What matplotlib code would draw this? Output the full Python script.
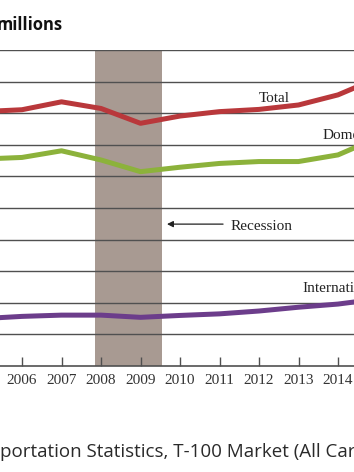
import matplotlib
matplotlib.use("Agg")
import matplotlib.pyplot as plt

# ---- data ----
years = [2005, 2006, 2007, 2008, 2009, 2010, 2011, 2012, 2013, 2014, 2015]
total = [805, 811, 836, 815, 768, 791, 805, 812, 826, 858, 911]
domestic = [655, 660, 681, 652, 615, 629, 641, 647, 647, 668, 722]
international = [150, 157, 161, 161, 154, 160, 165, 174, 186, 196, 212]
recession = (2007.85, 2009.55)
tick_years = list(range(2005, 2016))
title_text = "millions"
source_prefix = "Source: Bureau of Trans"
source_text = "Source: Bureau of Transportation Statistics, T-100 Market (All Carriers)"

W, H = 354, 472
fig = plt.figure(figsize=(W / 100, H / 100), dpi=100)

px_per_year = 39.5
x0 = 2006 - 22 / px_per_year
x1 = 2014 + (W - 338) / px_per_year
ax = fig.add_axes([0, 1 - 366 / H, 1, (366 - 50) / H])

serif = ["Liberation Serif", "DejaVu Serif"]

# recession shading
ax.axvspan(recession[0], recession[1], color="#a89a92", zorder=0, lw=0)

# gridlines
for v in range(100, 1001, 100):
    ax.axhline(v, color="#505050", lw=1.0, zorder=1)

# series
ax.plot(years, total, color="#b9383b", lw=3.6, zorder=3, solid_capstyle="butt")
ax.plot(years, domestic, color="#8cb23b", lw=3.6, zorder=3, solid_capstyle="butt")
ax.plot(years, international, color="#6c3d8b", lw=3.6, zorder=3, solid_capstyle="butt")

# labels
ax.text(2012.38, 848, "Total", family=serif, fontsize=11, ha="center", va="center", color="#222222")
ax.text(2013.62, 731, "Domestic", family=serif, fontsize=11, ha="left", va="center", color="#222222")
ax.text(2013.09, 244, "International", family=serif, fontsize=11, ha="left", va="center", color="#222222")
ax.text(2011.27, 443, "Recession", family=serif, fontsize=11, ha="left", va="center", color="#222222")
ax.annotate("", xy=(2009.67, 449), xytext=(2011.09, 449),
            arrowprops=dict(arrowstyle="-|>", color="#222222", lw=0.9,
                            mutation_scale=9, shrinkA=0, shrinkB=0))

# axes styling
for s in ["left", "right", "top"]:
    ax.spines[s].set_visible(False)
ax.spines["bottom"].set_color("#505050")
ax.spines["bottom"].set_linewidth(1.2)
ax.set_yticks([])
ax.set_xticks(tick_years)
ax.set_xticklabels([str(y) for y in tick_years], family=serif, fontsize=11, color="#333333")
ax.tick_params(axis="x", direction="in", length=6.5, width=1.0, color="#505050", pad=6)
ax.set_xlim(x0, x1)
ax.set_ylim(0, 1000)

# title fragment
fig.text(63 / W, 1 - 29.5 / H, title_text, family=["Open Sans", "DejaVu Sans"],
         fontweight="bold", fontsize=12, ha="right", va="baseline", color="#111111")

# source line, positioned so that it is cut like the reference
renderer = fig.canvas.get_renderer()
src_font = dict(family=["Open Sans", "DejaVu Sans"], fontsize=13.5)
tmp = fig.text(0, 0, source_prefix, **src_font)
pw = tmp.get_window_extent(renderer).width
tmp.remove()
fig.text(-pw / W, 1 - 457 / H, source_text, ha="left", va="baseline", color="#2a2a2a", **src_font)

fig.savefig("out.png", dpi=100)
